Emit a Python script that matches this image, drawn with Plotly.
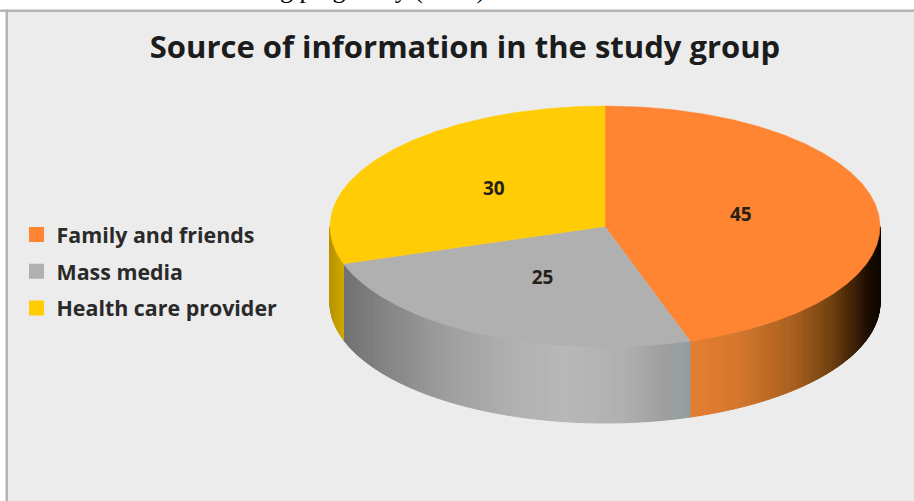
import numpy as np
import plotly.graph_objects as go

# Chart data
categories = ["Family and friends", "Mass media", "Health care provider"]
values = [45, 25, 30]
top_colors = ["#ff8533", "#b0b0b0", "#ffcc05"]
title_text = "Source of information in the study group"
caption_text = "during pregnancy (n=50)"

# Wall shading: (horizontal position, colour) stops for each slice
wall_stops = [
    [(693, (226, 126, 50)), (737, (213, 119, 46)), (793, (168, 96, 31)),
     (831, (112, 64, 15)), (869, (26, 12, 2)), (880, (15, 8, 2))],
    [(339, (112, 112, 112)), (377, (128, 128, 128)), (434, (154, 154, 154)),
     (509, (176, 176, 176)), (566, (184, 184, 184)), (623, (176, 176, 176)),
     (661, (160, 160, 160)), (693, (146, 156, 162))],
    [(330, (184, 148, 0)), (343, (208, 168, 0))],
]

# Projection of the disc onto the page
CX, CY, RX, RY, DEPTH = 605, 226.5, 275, 120.5, 76
LABEL_RADIUS = 0.5
LABEL_RISE = 1


def rim(theta_deg, drop=0.0):
    t = np.radians(theta_deg)
    return CX + RX * np.sin(t), CY - RY * np.cos(t) + drop


def wall_color(stops, x):
    xs = [s[0] for s in stops]
    rgb = [np.interp(x, xs, [s[1][i] for s in stops]) for i in range(3)]
    return "rgb({:.0f},{:.0f},{:.0f})".format(*rgb)


fig = go.Figure()

edges = np.concatenate([[0], np.cumsum(values)]) / sum(values) * 360

# Front walls, built from thin strips so the shading can vary across them
for i, stops in enumerate(wall_stops):
    a0, a1 = max(edges[i], 90), min(edges[i + 1], 270)
    n = max(int((a1 - a0) * 2), 1)
    steps = np.linspace(a0, a1, n + 1)
    for s0, s1 in zip(steps[:-1], steps[1:]):
        x0, y0 = rim(s0)
        x1, y1 = rim(s1)
        col = wall_color(stops, (x0 + x1) / 2)
        fig.add_trace(go.Scatter(
            x=[x0, x1, x1, x0, x0], y=[y0, y1, y1 + DEPTH, y0 + DEPTH, y0],
            mode="lines", fill="toself", fillcolor=col,
            line=dict(color=col, width=1),
            hoverinfo="skip", showlegend=False))

# Top faces of the slices
for i, name in enumerate(categories):
    arc = np.linspace(edges[i], edges[i + 1], int(edges[i + 1] - edges[i]) * 2 + 1)
    ax, ay = rim(arc)
    fig.add_trace(go.Scatter(
        x=np.concatenate([[CX], ax, [CX]]), y=np.concatenate([[CY], ay, [CY]]),
        mode="lines", fill="toself", fillcolor=top_colors[i],
        line=dict(color=top_colors[i], width=0.5),
        name=name, hoverinfo="name", showlegend=False))

# Value labels at the middle of each slice
mids = (edges[:-1] + edges[1:]) / 2
fig.add_trace(go.Scatter(
    x=CX + LABEL_RADIUS * RX * np.sin(np.radians(mids)),
    y=CY - LABEL_RADIUS * RY * np.cos(np.radians(mids)) - LABEL_RISE,
    text=[str(v) for v in values], mode="text", textposition="middle center",
    textfont=dict(family="Open Sans", size=19, color="#262118", weight=700),
    hoverinfo="skip", showlegend=False))

# Legend entries
for i, name in enumerate(categories):
    fig.add_trace(go.Scatter(
        x=[None], y=[None], mode="markers", name=name, legendgroup=name,
        marker=dict(symbol="square", size=15, color=top_colors[i])))

fig.update_layout(
    width=914, height=501, margin=dict(l=0, r=0, t=0, b=0),
    paper_bgcolor="white", plot_bgcolor="white",
    xaxis=dict(range=[0, 914], visible=False, fixedrange=True),
    yaxis=dict(range=[501, 0], visible=False, fixedrange=True),
    title=dict(text=title_text, x=465 / 914, xanchor="center",
               y=1 - 47 / 501, yanchor="middle",
               font=dict(family="Open Sans", size=31, color="#1c1c1c", weight=700)),
    legend=dict(x=16.5 / 914, xanchor="left", y=1 - 214 / 501, yanchor="top",
                bgcolor="rgba(0,0,0,0)", tracegroupgap=6, itemclick=False,
                font=dict(family="Open Sans", size=21.4, color="#2a2a2a", weight=700)),
    shapes=[
        dict(type="rect", layer="below", x0=6, x1=914, y0=10, y1=501,
             fillcolor="#ececec", line_width=0),
        dict(type="rect", layer="below", x0=0, x1=914, y0=9.5, y1=12,
             fillcolor="#b5b5b5", line_width=0),
        dict(type="rect", layer="below", x0=5.5, x1=8, y0=9.5, y1=501,
             fillcolor="#b5b5b5", line_width=0),
    ],
    annotations=[dict(
        text=caption_text, xref="paper", yref="paper", x=487 / 914, y=1,
        xanchor="right", yanchor="bottom", yshift=-6, showarrow=False,
        font=dict(family="Liberation Serif", size=26, color="black"))],
)

fig.write_html("out.html")
